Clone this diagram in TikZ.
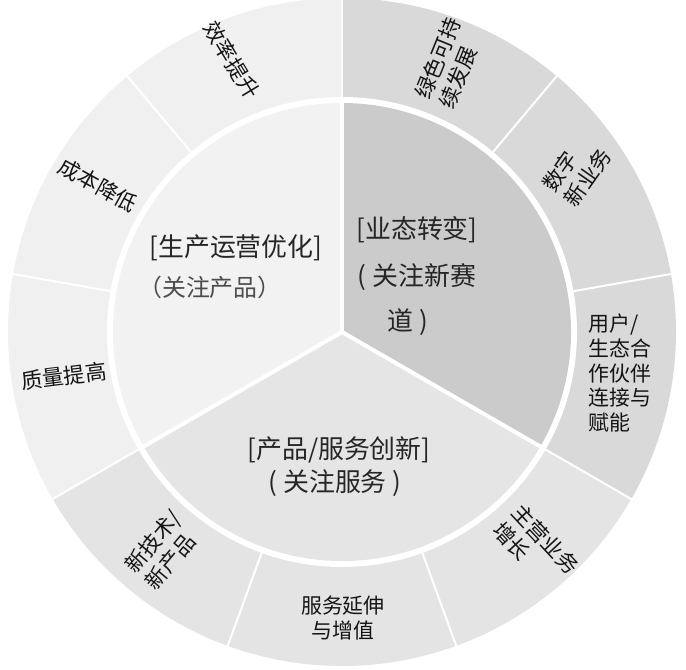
\documentclass[tikz,border=0pt]{standalone}
\usepackage{fontspec}
\newfontfamily\cjk{Noto Sans CJK SC}
\definecolor{cL}{HTML}{F0F0F0}
\definecolor{cR}{HTML}{D9D9D9}
\definecolor{cB}{HTML}{E4E4E4}
\definecolor{ciL}{HTML}{F2F2F2}
\definecolor{ciR}{HTML}{CBCBCB}
\definecolor{ciB}{HTML}{E5E5E5}
\begin{document}
\begin{tikzpicture}[x=1bp,y=1bp,
  ringtext/.style={font=\cjk\fontsize{21}{25}\selectfont, text=black!92, inner sep=0pt},
  rottext/.style={font=\cjk\fontsize{21.5}{26}\selectfont, text=black!92, inner sep=0pt, align=left},
  coretext/.style={font=\cjk\fontsize{26}{30}\selectfont, text=black!85, inner sep=0pt},
  subtext/.style={font=\cjk\fontsize{24}{28}\selectfont, text=black!70, inner sep=0pt}]
\useasboundingbox (-342,-338) rectangle (344,332);
% outer ring segments
\foreach \a/\b/\c in {90/130/cL,130/170/cL,170/210/cL,50/90/cR,10/50/cR,-30/10/cR,-70/-30/cB,-110/-70/cB,-150/-110/cB}
  \fill[\c] (0,0) -- (\a:334) arc[start angle=\a, end angle=\b, radius=334] -- cycle;
\foreach \a in {90,130,170,210,250,290,330,10,50}
  \draw[white, line width=2] (0,0) -- (\a:335);
% gap
\fill[white] (0,0) circle[radius=235];
% inner sectors
\fill[ciL] (0,0) -- (90:229) arc[start angle=90, end angle=210, radius=229] -- cycle;
\fill[ciR] (0,0) -- (-30:229) arc[start angle=-30, end angle=90, radius=229] -- cycle;
\fill[ciB] (0,0) -- (210:229) arc[start angle=210, end angle=330, radius=229] -- cycle;
\foreach \a in {90,210,330}
  \draw[white, line width=4] (0,0) -- (\a:231);
% outer labels
\node[rottext, rotate=-59] (eff) at (-110,272) {效率提升};
\node[rottext, rotate=-29] (cost) at (-244,147) {成本降低};
\node[rottext, rotate=7] (qual) at (-278,-44) {质量提高};
\node[rottext, rotate=50] (tech) at (-179,-218) {新技术/\\新产品};
\node[ringtext, align=center] (serv) at (1,-286) {服务延伸\\与增值};
\node[rottext, rotate=-47] (mainbiz) at (194,-216) {主营业务\\增长};
\node[ringtext, align=left, anchor=west] (user) at (246,-41) {用户/\\生态合\\作伙伴\\连接与\\赋能};
\node[rottext, rotate=55] (digi) at (235,162) {数字\\新业务};
\node[rottext, rotate=68] (green) at (108,269) {绿色可持\\续发展};
% inner labels
\node[coretext] (opt) at (-106,84) {[生产运营优化]};
\node[subtext] (optsub) at (-132,45) {（关注产品）};
\node[coretext] (biz) at (75,102) {[业态转变]};
\node[coretext] (bizsub) at (75,55) {( 关注新赛};
\node[coretext] (bizsub2) at (66,10) {道 )};
\node[coretext] (prod) at (-3,-118) {[产品/服务创新]};
\node[coretext] (prodsub) at (-7,-151) {( 关注服务 )};
\end{tikzpicture}
\end{document}
